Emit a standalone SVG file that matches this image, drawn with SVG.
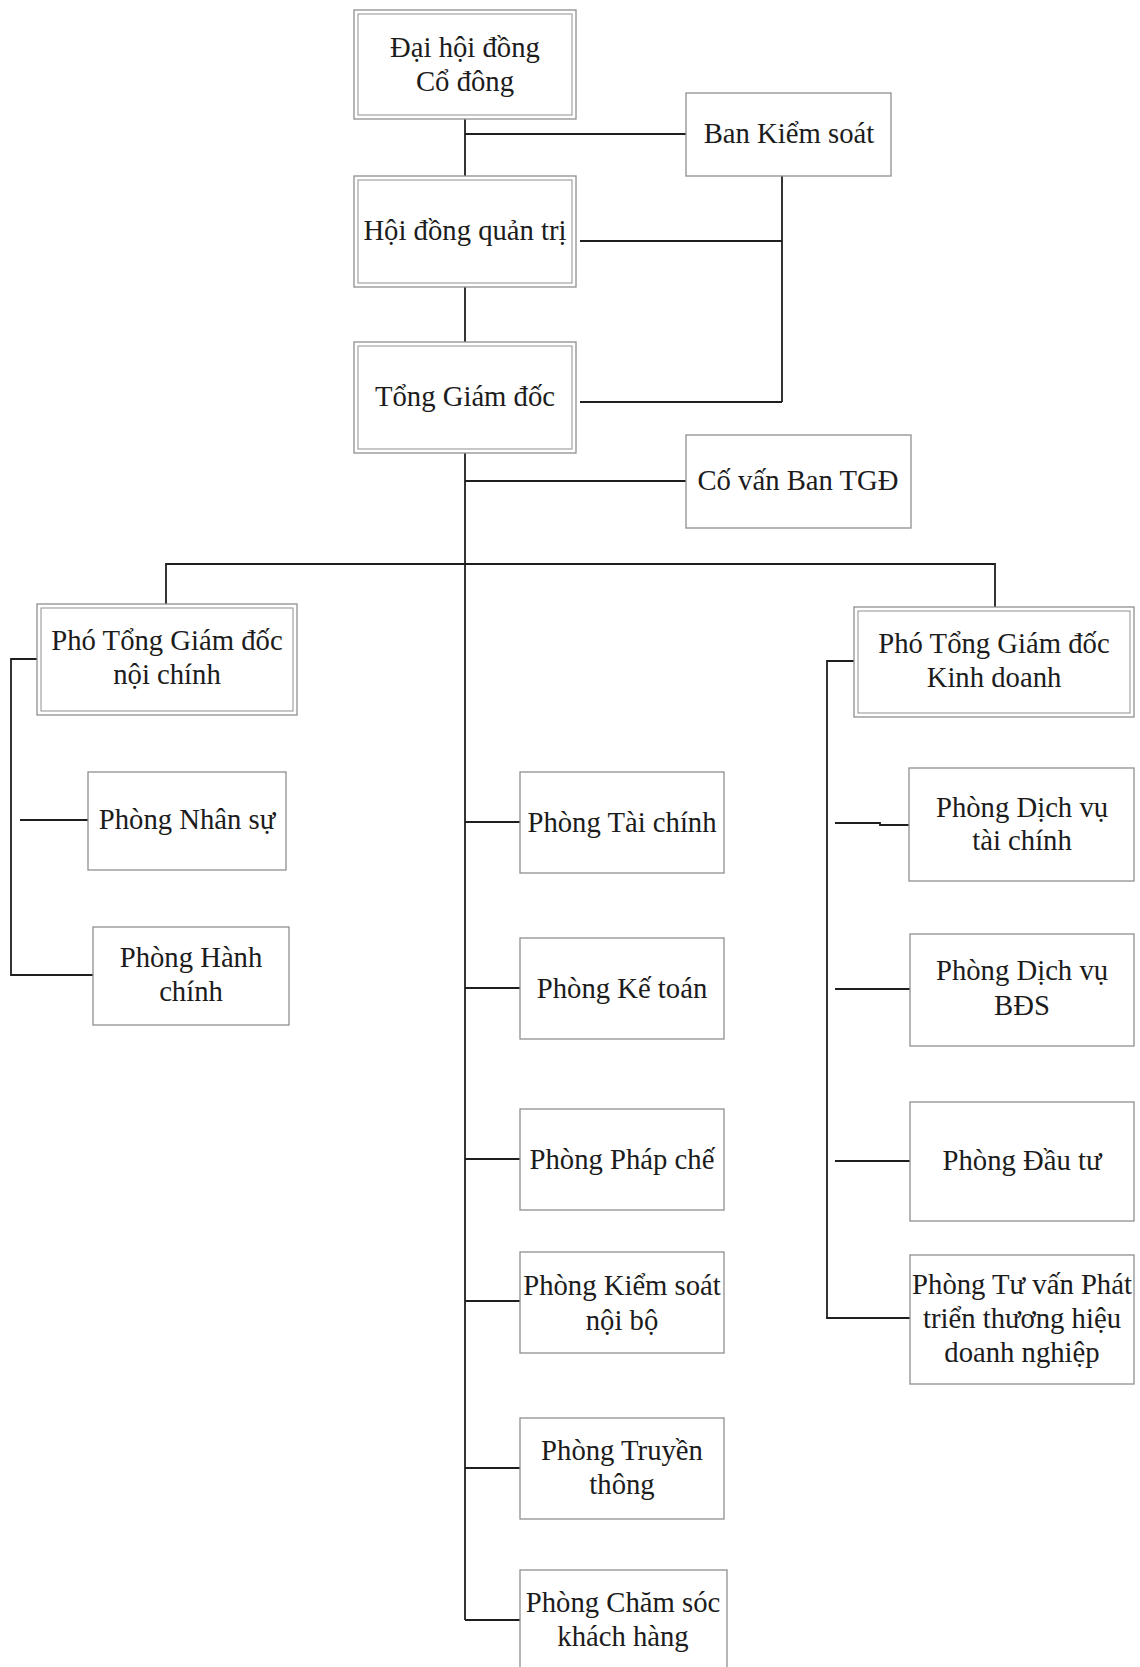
<svg xmlns="http://www.w3.org/2000/svg" width="1140" height="1667" viewBox="0 0 1140 1667">
<style>
.bg{fill:#ffffff}
.box{fill:#ffffff;stroke:#8f8f8f;stroke-width:1.3}
.inner{fill:none;stroke:#9a9a9a;stroke-width:1.1}
.conn{fill:none;stroke:#1f1f1f;stroke-width:1.8}
text{font-family:"Liberation Serif","Times New Roman",serif;font-size:28.7px;fill:#1c1c1c;text-anchor:middle}
</style>
<rect class="bg" x="0" y="0" width="1140" height="1667"/>
<g id="connectors">
<path class="conn" d="M465 119V176M465 287V342M465 453V1620"/>
<path class="conn" d="M465 134H686"/>
<path class="conn" d="M782 176V402M580 241H782M580 402H782"/>
<path class="conn" d="M465 481H686"/>
<path class="conn" d="M166 604V564H995V607"/>
<path class="conn" d="M37 659H11V975H93M20 820H88"/>
<path class="conn" d="M465 822H520M465 988H520M465 1159H520M465 1301H520M465 1468H520M465 1620H520"/>
<path class="conn" d="M854 661H827V1318H910M835 823H880V825H909M835 989H910M835 1161H910"/>
</g>
<g id="dai-hoi-dong-co-dong">
<rect class="box" x="354" y="10" width="222" height="109"/>
<rect class="inner" x="358" y="14" width="214" height="101"/>
<text x="465" y="57">Đại hội đồng</text>
<text x="465" y="91">Cổ đông</text>
</g>
<g id="ban-kiem-soat">
<rect class="box" x="686" y="93" width="205" height="83"/>
<text x="789" y="143">Ban Kiểm soát</text>
</g>
<g id="hoi-dong-quan-tri">
<rect class="box" x="354" y="176" width="222" height="111"/>
<rect class="inner" x="358" y="180" width="214" height="103"/>
<text x="465" y="240">Hội đồng quản trị</text>
</g>
<g id="tong-giam-doc">
<rect class="box" x="354" y="342" width="222" height="111"/>
<rect class="inner" x="358" y="346" width="214" height="103"/>
<text x="465" y="406">Tổng Giám đốc</text>
</g>
<g id="co-van-ban-tgd">
<rect class="box" x="686" y="435" width="225" height="93"/>
<text x="798" y="490">Cố vấn Ban TGĐ</text>
</g>
<g id="pho-tgd-noi-chinh">
<rect class="box" x="37" y="604" width="260" height="111"/>
<rect class="inner" x="41" y="608" width="252" height="103"/>
<text x="167" y="650">Phó Tổng Giám đốc</text>
<text x="167" y="684">nội chính</text>
</g>
<g id="pho-tgd-kinh-doanh">
<rect class="box" x="854" y="607" width="280" height="110"/>
<rect class="inner" x="858" y="611" width="272" height="102"/>
<text x="994" y="653">Phó Tổng Giám đốc</text>
<text x="994" y="687">Kinh doanh</text>
</g>
<g id="phong-nhan-su">
<rect class="box" x="88" y="772" width="198" height="98"/>
<text x="187" y="829">Phòng Nhân sự</text>
</g>
<g id="phong-hanh-chinh">
<rect class="box" x="93" y="927" width="196" height="98"/>
<text x="191" y="967">Phòng Hành</text>
<text x="191" y="1001">chính</text>
</g>
<g id="phong-tai-chinh">
<rect class="box" x="520" y="772" width="204" height="101"/>
<text x="622" y="832">Phòng Tài chính</text>
</g>
<g id="phong-ke-toan">
<rect class="box" x="520" y="938" width="204" height="101"/>
<text x="622" y="998">Phòng Kế toán</text>
</g>
<g id="phong-phap-che">
<rect class="box" x="520" y="1109" width="204" height="101"/>
<text x="622" y="1169">Phòng Pháp chế</text>
</g>
<g id="phong-kiem-soat-noi-bo">
<rect class="box" x="520" y="1252" width="204" height="101"/>
<text x="622" y="1295">Phòng Kiểm soát</text>
<text x="622" y="1330">nội bộ</text>
</g>
<g id="phong-truyen-thong">
<rect class="box" x="520" y="1418" width="204" height="101"/>
<text x="622" y="1460">Phòng Truyền</text>
<text x="622" y="1494">thông</text>
</g>
<g id="phong-cham-soc-khach-hang">
<rect class="box" x="520" y="1570" width="207" height="105"/>
<text x="623" y="1612">Phòng Chăm sóc</text>
<text x="623" y="1646">khách hàng</text>
</g>
<g id="phong-dich-vu-tai-chinh">
<rect class="box" x="909" y="768" width="225" height="113"/>
<text x="1022" y="817">Phòng Dịch vụ</text>
<text x="1022" y="850">tài chính</text>
</g>
<g id="phong-dich-vu-bds">
<rect class="box" x="910" y="934" width="224" height="112"/>
<text x="1022" y="980">Phòng Dịch vụ</text>
<text x="1022" y="1015">BĐS</text>
</g>
<g id="phong-dau-tu">
<rect class="box" x="910" y="1102" width="224" height="119"/>
<text x="1022" y="1170">Phòng Đầu tư</text>
</g>
<g id="phong-tu-van-phat-trien-thuong-hieu">
<rect class="box" x="910" y="1255" width="224" height="129"/>
<text x="1022" y="1294">Phòng Tư vấn Phát</text>
<text x="1022" y="1328">triển thương hiệu</text>
<text x="1022" y="1362">doanh nghiệp</text>
</g>
</svg>
